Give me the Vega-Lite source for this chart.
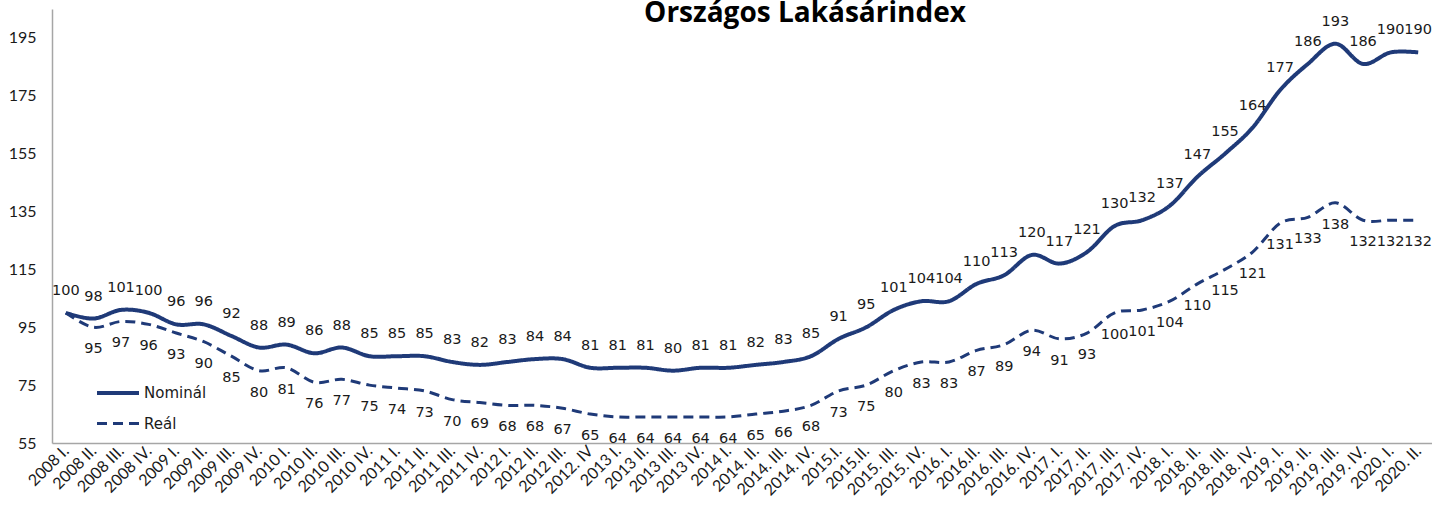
{
  "$schema": "https://vega.github.io/schema/vega-lite/v6.json",
  "width": 1380,
  "height": 434,
  "autosize": {"type": "none"},
  "padding": {"left": 52, "top": 9, "right": 0, "bottom": 67},
  "background": "white",
  "title": {
    "text": "Országos Lakásárindex",
    "font": "Open Sans",
    "fontSize": 28,
    "fontWeight": "bold",
    "color": "#000000",
    "anchor": "middle",
    "orient": "top",
    "offset": 0,
    "baseline": "alphabetic",
    "dy": 41,
    "dx": 63
  },
  "config": {
    "view": {"stroke": null},
    "axis": {"labelFont": "Lato", "labelFontSize": 16, "labelColor": "#1a1a1a", "domainColor": "#a6a6a6", "domainWidth": 1.5, "ticks": false, "grid": false, "title": null}
  },
  "data": {
    "values": [
      {"q": "2008 I.", "Nominál": 100, "Reál": 100},
      {"q": "2008 II.", "Nominál": 98, "Reál": 95},
      {"q": "2008 III.", "Nominál": 101, "Reál": 97},
      {"q": "2008 IV.", "Nominál": 100, "Reál": 96},
      {"q": "2009 I.", "Nominál": 96, "Reál": 93},
      {"q": "2009 II.", "Nominál": 96, "Reál": 90},
      {"q": "2009 III.", "Nominál": 92, "Reál": 85},
      {"q": "2009 IV.", "Nominál": 88, "Reál": 80},
      {"q": "2010 I.", "Nominál": 89, "Reál": 81},
      {"q": "2010 II.", "Nominál": 86, "Reál": 76},
      {"q": "2010 III.", "Nominál": 88, "Reál": 77},
      {"q": "2010 IV.", "Nominál": 85, "Reál": 75},
      {"q": "2011 I.", "Nominál": 85, "Reál": 74},
      {"q": "2011 II.", "Nominál": 85, "Reál": 73},
      {"q": "2011 III.", "Nominál": 83, "Reál": 70},
      {"q": "2011 IV.", "Nominál": 82, "Reál": 69},
      {"q": "2012 I.", "Nominál": 83, "Reál": 68},
      {"q": "2012 II.", "Nominál": 84, "Reál": 68},
      {"q": "2012 III.", "Nominál": 84, "Reál": 67},
      {"q": "2012. IV", "Nominál": 81, "Reál": 65},
      {"q": "2013 I.", "Nominál": 81, "Reál": 64},
      {"q": "2013 II.", "Nominál": 81, "Reál": 64},
      {"q": "2013 III.", "Nominál": 80, "Reál": 64},
      {"q": "2013 IV.", "Nominál": 81, "Reál": 64},
      {"q": "2014 I.", "Nominál": 81, "Reál": 64},
      {"q": "2014. II.", "Nominál": 82, "Reál": 65},
      {"q": "2014. III.", "Nominál": 83, "Reál": 66},
      {"q": "2014. IV.", "Nominál": 85, "Reál": 68},
      {"q": "2015.I.", "Nominál": 91, "Reál": 73},
      {"q": "2015.II.", "Nominál": 95, "Reál": 75},
      {"q": "2015. III.", "Nominál": 101, "Reál": 80},
      {"q": "2015. IV.", "Nominál": 104, "Reál": 83},
      {"q": "2016. I.", "Nominál": 104, "Reál": 83},
      {"q": "2016.II.", "Nominál": 110, "Reál": 87},
      {"q": "2016. III.", "Nominál": 113, "Reál": 89},
      {"q": "2016. IV.", "Nominál": 120, "Reál": 94},
      {"q": "2017. I.", "Nominál": 117, "Reál": 91},
      {"q": "2017. II.", "Nominál": 121, "Reál": 93},
      {"q": "2017. III.", "Nominál": 130, "Reál": 100},
      {"q": "2017. IV.", "Nominál": 132, "Reál": 101},
      {"q": "2018. I.", "Nominál": 137, "Reál": 104},
      {"q": "2018. II.", "Nominál": 147, "Reál": 110},
      {"q": "2018. III.", "Nominál": 155, "Reál": 115},
      {"q": "2018. IV.", "Nominál": 164, "Reál": 121},
      {"q": "2019. I.", "Nominál": 177, "Reál": 131},
      {"q": "2019. II.", "Nominál": 186, "Reál": 133},
      {"q": "2019. III.", "Nominál": 193, "Reál": 138},
      {"q": "2019. IV.", "Nominál": 186, "Reál": 132},
      {"q": "2020. I.", "Nominál": 190, "Reál": 132},
      {"q": "2020. II.", "Nominál": 190, "Reál": 132}
    ]
  },
  "transform": [{"fold": ["Nominál", "Reál"], "as": ["series", "value"]}],
  "encoding": {
    "x": {
      "field": "q",
      "type": "ordinal",
      "sort": null,
      "scale": {"type": "point", "padding": 0.5},
      "axis": {"labelAngle": -45, "labelAlign": "right", "labelBaseline": "middle", "labelPadding": 5, "labelOverlap": false}
    },
    "y": {
      "field": "value",
      "type": "quantitative",
      "scale": {"domain": [55, 205], "nice": false, "zero": false},
      "axis": {"values": [55, 75, 95, 115, 135, 155, 175, 195], "labelPadding": 16}
    }
  },
  "layer": [
    {
      "mark": {"type": "line", "interpolate": "cardinal", "color": "#1F3A78"},
      "encoding": {
        "strokeDash": {
          "field": "series",
          "type": "nominal",
          "scale": {"domain": ["Nominál", "Reál"], "range": [[1, 0], [10, 6]]},
          "legend": {
            "orient": "none",
            "legendX": 43,
            "legendY": 361,
            "title": null,
            "symbolType": "stroke",
            "symbolSize": 1764,
            "symbolStrokeColor": "#1F3A78",
            "symbolStrokeWidth": 3,
            "labelFont": "DejaVu Sans",
            "labelFontSize": 15,
            "labelColor": "#1a1a1a",
            "labelOffset": 3,
            "rowPadding": -9
          }
        },
        "strokeWidth": {
          "field": "series",
          "type": "nominal",
          "scale": {"domain": ["Nominál", "Reál"], "range": [4, 3]},
          "legend": null
        }
      }
    },
    {
      "transform": [{"filter": "datum.series === 'Nominál'"}],
      "mark": {"type": "text", "font": "DejaVu Sans", "fontSize": 14.5, "color": "#1a1a1a", "baseline": "middle", "dy": -22},
      "encoding": {"text": {"field": "value", "type": "quantitative", "format": "d"}}
    },
    {
      "transform": [{"filter": "datum.series === 'Reál' && datum.q !== '2008 I.'"}],
      "mark": {"type": "text", "font": "DejaVu Sans", "fontSize": 14.5, "color": "#1a1a1a", "baseline": "middle", "dy": 22},
      "encoding": {"text": {"field": "value", "type": "quantitative", "format": "d"}}
    }
  ]
}
